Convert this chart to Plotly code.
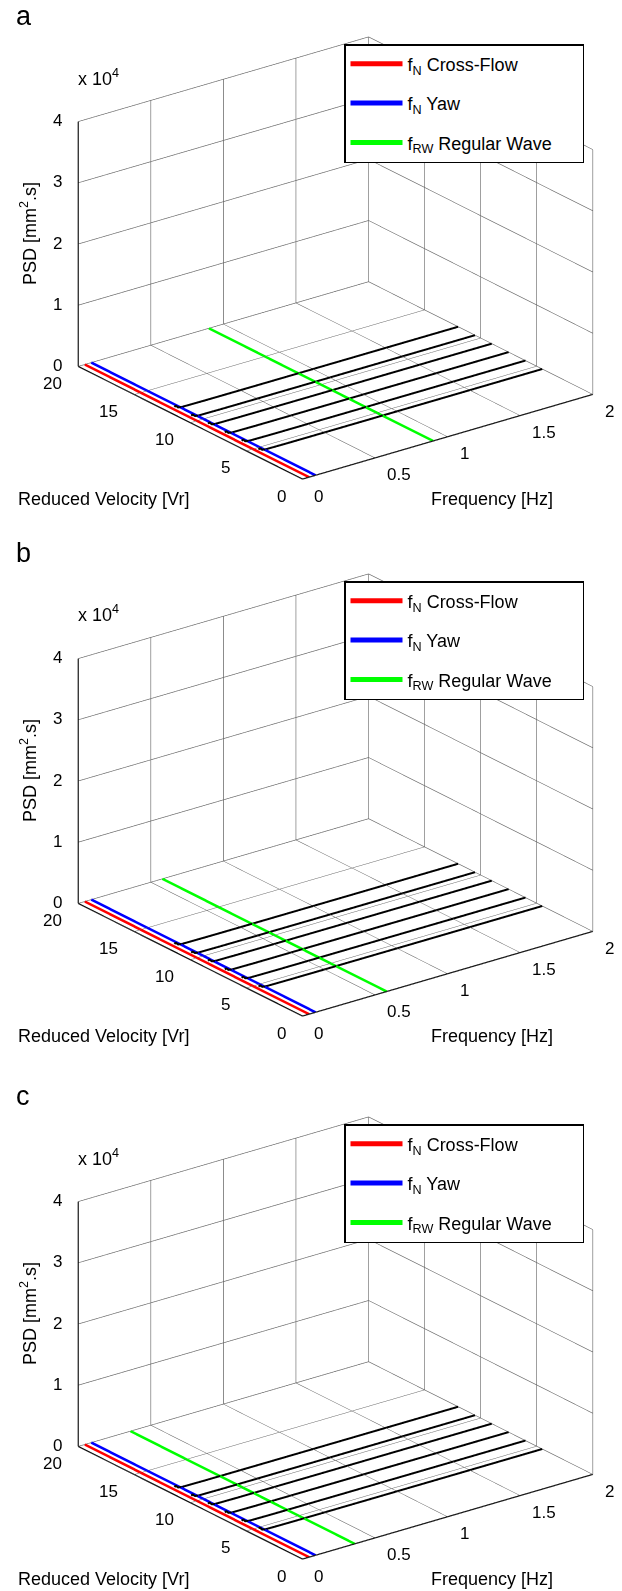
import plotly.graph_objects as go

# ---- data -------------------------------------------------------------
PANELS = ["a", "b", "c"]
VR_RANGE = [0, 20]                      # reduced velocity span of the marker lines
VR_LEVELS = [4.5, 6.0, 7.5, 9.0, 10.5, 12.0]   # tested reduced velocities
F_CROSSFLOW = 0.045                     # natural frequency, cross-flow [Hz]
F_YAW = 0.09                            # natural frequency, yaw [Hz]
F_WAVE = [0.90, 0.58, 0.36]             # regular-wave frequency per panel [Hz]

FREQ = [0.045, 0.055, 0.07, 0.10, 0.25, 0.50, 0.75, 1.00, 1.25, 1.50, 1.75, 2.00]
PSD_A = [
    [380, 520, 160, 70, 40, 28, 22, 18, 15, 13, 11, 10],
    [420, 560, 170, 75, 42, 30, 23, 19, 16, 14, 12, 10],
    [400, 540, 150, 72, 41, 29, 22, 18, 15, 13, 11, 9],
    [450, 600, 180, 80, 45, 31, 24, 20, 17, 14, 12, 10],
    [390, 510, 155, 68, 39, 27, 21, 17, 14, 12, 10, 9],
    [430, 580, 175, 78, 44, 30, 23, 19, 16, 13, 11, 10],
]
PSD_B = [
    [360, 500, 150, 66, 38, 27, 21, 17, 14, 12, 10, 9],
    [410, 550, 165, 73, 41, 29, 22, 18, 15, 13, 11, 10],
    [395, 530, 158, 70, 40, 28, 22, 18, 15, 12, 11, 9],
    [440, 590, 178, 79, 44, 31, 24, 19, 16, 14, 12, 10],
    [380, 505, 152, 67, 38, 27, 21, 17, 14, 12, 10, 9],
    [425, 570, 172, 76, 43, 30, 23, 19, 16, 13, 11, 10],
]
PSD_C = [
    [600, 640, 190, 84, 47, 33, 25, 21, 17, 15, 13, 11],
    [430, 575, 172, 76, 43, 30, 23, 19, 16, 14, 12, 10],
    [405, 545, 162, 72, 41, 29, 22, 18, 15, 13, 11, 9],
    [445, 595, 180, 80, 45, 31, 24, 20, 16, 14, 12, 10],
    [385, 515, 154, 68, 39, 27, 21, 17, 14, 12, 10, 9],
    [420, 565, 170, 75, 42, 30, 23, 19, 16, 13, 11, 10],
]
PSD_SETS = [PSD_A, PSD_B, PSD_C]

F_RANGE = [0, 2]
PSD_RANGE = [0, 40000]
Z_TICKS = [0, 10000, 20000, 30000, 40000]
Z_TICKTEXT = ["0", "1", "2", "3", "4"]
F_TICKS = [0, 0.5, 1, 1.5, 2]
F_TICKTEXT = ["0", "0.5", "1", "1.5", "2"]
VR_TICKS = [0, 5, 10, 15, 20]
VR_TICKTEXT = ["0", "5", "10", "15", "20"]

# ---- layout constants ---------------------------------------------------
W, H = 622, 1591
FONT = "Liberation Sans, Arial, sans-serif"
PANEL_TOP = [0, 537, 1080]
SCENE_HALF = 250
SCENE_CENTER = 258
EYE_DIR = (-0.560, -0.735, 0.383)
EYE_DIST = 1.6
SCREEN_RIGHT = (0.7955, -0.6061, 0.0)
SHIFT_RIGHT = 0.098           # move the box to the right, in scene units
ASPECT = dict(x=1.46, y=1.48, z=1.06)


def py(px):
    """Convert a pixel row (from the top) to paper y."""
    return 1 - px / H


fig = go.Figure()

for k, panel in enumerate(PANELS):
    scene_id = "scene" if k == 0 else f"scene{k + 1}"
    legend_id = "legend" if k == 0 else f"legend{k + 1}"

    # measured spectra, one per reduced velocity
    for vr, psd in zip(VR_LEVELS, PSD_SETS[k]):
        fig.add_trace(go.Scatter3d(
            x=FREQ, y=[vr] * len(FREQ), z=psd, mode="lines",
            line=dict(color="black", width=4), showlegend=False,
            hoverinfo="skip", scene=scene_id))

    # characteristic frequencies drawn across the whole Vr range
    markers = [
        (F_CROSSFLOW, "#ff0000", "f<sub>N</sub> Cross-Flow"),
        (F_YAW, "#0000ff", "f<sub>N</sub> Yaw"),
        (F_WAVE[k], "#00ff00", "f<sub>RW</sub> Regular Wave" + "&nbsp;" * 5),
    ]
    for j, (f, color, name) in enumerate(markers):
        fig.add_trace(go.Scatter3d(
            x=[f, f], y=VR_RANGE, z=[0, 0], mode="lines",
            line=dict(color=color, width=5), name=name,
            legendgroup=f"{panel}{j}", legend=legend_id,
            hoverinfo="skip", scene=scene_id))

    # solid axis lines along the labelled box edges
    f0, f1 = F_RANGE
    v0, v1 = VR_RANGE
    z0, z1 = PSD_RANGE
    for xs, ys, zs in [([f0, f0], [v1, v1], [z0, z1]),
                       ([f0, f0], [v0, v1], [z0, z0]),
                       ([f0, f1], [v0, v0], [z0, z0])]:
        fig.add_trace(go.Scatter3d(
            x=xs, y=ys, z=zs, mode="lines", line=dict(color="black", width=2.5),
            showlegend=False, hoverinfo="skip", scene=scene_id))

    axis_common = dict(
        showbackground=False, showgrid=True, gridcolor="#666666", gridwidth=1.4,
        showline=False, ticks="", zeroline=False, showspikes=False,
        title=dict(text=""), showticklabels=False,
    )

    # upright tick labels anchored at the axis positions
    tick_font = dict(family=FONT, size=17, color="black")
    scene_ann = []
    for v, t in zip(Z_TICKS, Z_TICKTEXT):
        scene_ann.append(dict(x=f0, y=v1, z=v, text=t, xanchor="right",
                              yanchor="middle", xshift=-14, yshift=1))
    for v, t in zip(VR_TICKS, VR_TICKTEXT):
        scene_ann.append(dict(x=f0, y=v, z=z0, text=t, xanchor="right",
                              yanchor="middle", xshift=-14.5, yshift=-17))
    for v, t in zip(F_TICKS, F_TICKTEXT):
        scene_ann.append(dict(x=v, y=v0, z=z0, text=t, xanchor="left",
                              yanchor="middle", xshift=10, yshift=-17))
    for a in scene_ann:
        a.update(showarrow=False, font=tick_font)

    top = PANEL_TOP[k]
    c = top + SCENE_CENTER
    cen = [-SHIFT_RIGHT * s for s in SCREEN_RIGHT]
    eye = [cen[i] + EYE_DIR[i] * EYE_DIST for i in range(3)]
    fig.update_layout(**{
        scene_id: dict(
            domain=dict(x=[0, 1], y=[py(c + SCENE_HALF), py(c - SCENE_HALF)]),
            xaxis=dict(range=F_RANGE, tickvals=F_TICKS, **axis_common),
            yaxis=dict(range=VR_RANGE, tickvals=VR_TICKS, **axis_common),
            zaxis=dict(range=PSD_RANGE, tickvals=Z_TICKS, **axis_common),
            aspectmode="manual", aspectratio=ASPECT,
            camera=dict(
                eye=dict(x=eye[0], y=eye[1], z=eye[2]),
                center=dict(x=cen[0], y=cen[1], z=cen[2]), up=dict(x=0, y=0, z=1),
                projection=dict(type="orthographic")),
            bgcolor="white",
            annotations=scene_ann,
        ),
        legend_id: dict(
            x=344 / W, y=py(top + 44), xanchor="left", yanchor="top",
            bgcolor="white", bordercolor="black", borderwidth=1.5,
            font=dict(family=FONT, size=18, color="black"),
            itemwidth=52, tracegroupgap=13,
        ),
    })

    # panel text
    ann = [
        dict(text=panel, x=14 / W, y=py(top + 16), xanchor="left", yanchor="middle",
             font=dict(size=27)),
        dict(text="x 10<sup>4</sup>", x=76 / W, y=py(top + 77), xanchor="left",
             yanchor="middle", font=dict(size=18)),
        dict(text="PSD [mm<sup>2</sup>.s]", x=28 / W, y=py(top + 234), textangle=-90,
             xanchor="center", yanchor="middle", font=dict(size=18)),
        dict(text="Reduced Velocity [Vr]", x=103 / W, y=py(top + 499),
             xanchor="center", yanchor="middle", font=dict(size=18)),
        dict(text="Frequency [Hz]", x=492 / W, y=py(top + 499),
             xanchor="center", yanchor="middle", font=dict(size=18)),
    ]
    for a in ann:
        a.update(xref="paper", yref="paper", showarrow=False)
        a["font"].update(family=FONT, color="black")
        fig.add_annotation(**a)

fig.update_layout(
    width=W, height=H, margin=dict(l=0, r=0, t=0, b=0),
    paper_bgcolor="white", plot_bgcolor="white",
    font=dict(family=FONT, color="black"), hovermode=False,
)

fig.write_html("out.html", config={"displayModeBar": False})
